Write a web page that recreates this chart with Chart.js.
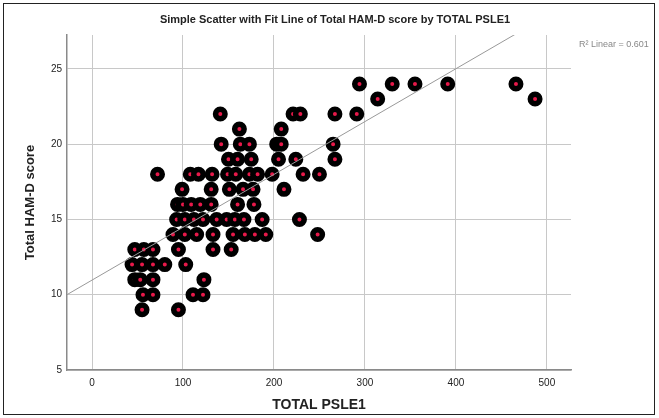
<!DOCTYPE html>
<html>
<head>
<meta charset="utf-8">
<script src="https://cdn.jsdelivr.net/npm/chart.js@4.4.1/dist/chart.umd.min.js"></script>
<style>
  html, body { margin: 0; padding: 0; background: #fff; }
  canvas { display: block; }
</style>
</head>
<body>
<canvas id="scatter" width="659" height="418"></canvas>
<script>
// values
const psle = [
    294, 330, 355, 391, 466,
    314, 487,
    141, 221, 229, 267, 291,
    162, 208,
    142, 163, 173, 203, 208, 265,
    150, 160, 175, 205, 224, 267,
    72, 108, 117, 132, 149, 158, 173, 182, 198, 232, 250,
    99, 131, 151, 166, 177, 211,
    94, 100, 109, 119, 131, 160, 178,
    93, 102, 112, 122, 137, 148, 157, 167, 187, 228,
    89, 102, 115, 133, 155, 168, 179, 191, 248,
    47, 57, 67, 95, 133, 153,
    44, 55, 67, 80, 103,
    47, 53, 67, 123,
    56, 67, 111, 122,
    55, 95
];
const hamd = [
    24, 24, 24, 24, 24,
    23, 23,
    22, 22, 22, 22, 22,
    21, 21,
    20, 20, 20, 20, 20, 20,
    19, 19, 19, 19, 19, 19,
    18, 18, 18, 18, 18, 18, 18, 18, 18, 18, 18,
    17, 17, 17, 17, 17, 17,
    16, 16, 16, 16, 16, 16, 16,
    15, 15, 15, 15, 15, 15, 15, 15, 15, 15,
    14, 14, 14, 14, 14, 14, 14, 14, 14,
    13, 13, 13, 13, 13, 13,
    12, 12, 12, 12, 12,
    11, 11, 11, 11,
    10, 10, 10, 10,
    9, 9
];
const xTickValues = [0, 100, 200, 300, 400, 500];
const yTickValues = [5, 10, 15, 20, 25];
const fitIntercept = 10.97;
const fitSlope = 0.0351;
const rSquared = "0.601";

const xMin = -27.5, xMax = 526.5;
const yMin = 5, yMax = 27.25;

var points = psle.map((v, i) => ({x: v, y: hamd[i]}));
var fitLine = [xMin, xMax].map(v => ({x: v, y: fitIntercept + fitSlope * v}));

var font = "'Liberation Sans', Arial, sans-serif";

// frame, title and R² note
const decor = {
    id: 'decor',
    afterDraw(chart) {
        const c = chart.ctx;
        c.save();
        c.strokeStyle = '#222';
        c.lineWidth = 1;
        c.strokeRect(3.5, 3.5, 651, 411);
        c.fillStyle = '#222';
        c.font = "bold 11px " + font;
        c.textAlign = 'center';
        c.textBaseline = 'middle';
        c.fillText("Simple Scatter with Fit Line of Total HAM-D score by TOTAL PSLE1", 335, 20);
        c.fillStyle = '#888';
        c.font = "9px " + font;
        c.textAlign = 'left';
        c.fillText("R\u00b2 Linear = " + rSquared, 579, 45);
        c.restore();
    }
};

new Chart(document.getElementById("scatter"), {
    type: 'scatter',
    data: {
        datasets: [{
            type: 'line',
            data: fitLine,
            borderColor: '#999',
            borderWidth: 1,
            pointRadius: 0,
            fill: false,
            order: 0
        }, {
            data: points,
            pointRadius: 4.75,
            pointBorderWidth: 5.5,
            backgroundColor: '#e8194a',
            borderColor: '#000',
            order: 1
        }]
    },
    options: {
        responsive: false,
        animation: false,
        events: [],
        devicePixelRatio: 1,
        layout: { padding: { top: 35, right: 88, left: 0, bottom: 0 } },
        plugins: { legend: { display: false }, tooltip: { enabled: false } },
        scales: {
            x: {
                type: 'linear',
                min: xMin,
                max: xMax,
                afterBuildTicks: (s) => { s.ticks = xTickValues.map(v => ({value: v})); },
                afterFit: (s) => { s.height = 48; },
                grid: { color: '#c8c8c8', drawTicks: false },
                border: { color: '#8a8a8a', width: 1.5 },
                ticks: { padding: 7, color: '#222', font: { family: font, size: 10 } },
                title: {
                    display: true,
                    text: 'TOTAL PSLE1',
                    color: '#222',
                    font: { family: font, size: 14, weight: 'bold' },
                    padding: { top: 0, bottom: 4 }
                }
            },
            y: {
                type: 'linear',
                min: yMin,
                max: yMax,
                afterBuildTicks: (s) => { s.ticks = yTickValues.map(v => ({value: v})); },
                afterFit: (s) => { s.width = 67; },
                grid: { color: '#c8c8c8', drawTicks: false },
                border: { color: '#8a8a8a', width: 1.5 },
                ticks: { padding: 5, color: '#222', font: { family: font, size: 10 } },
                title: {
                    display: true,
                    text: 'Total HAM-D score',
                    color: '#222',
                    font: { family: font, size: 13, weight: 'bold' },
                    padding: { top: 23, bottom: 0 }
                }
            }
        }
    },
    plugins: [decor]
});
</script>
</body>
</html>
